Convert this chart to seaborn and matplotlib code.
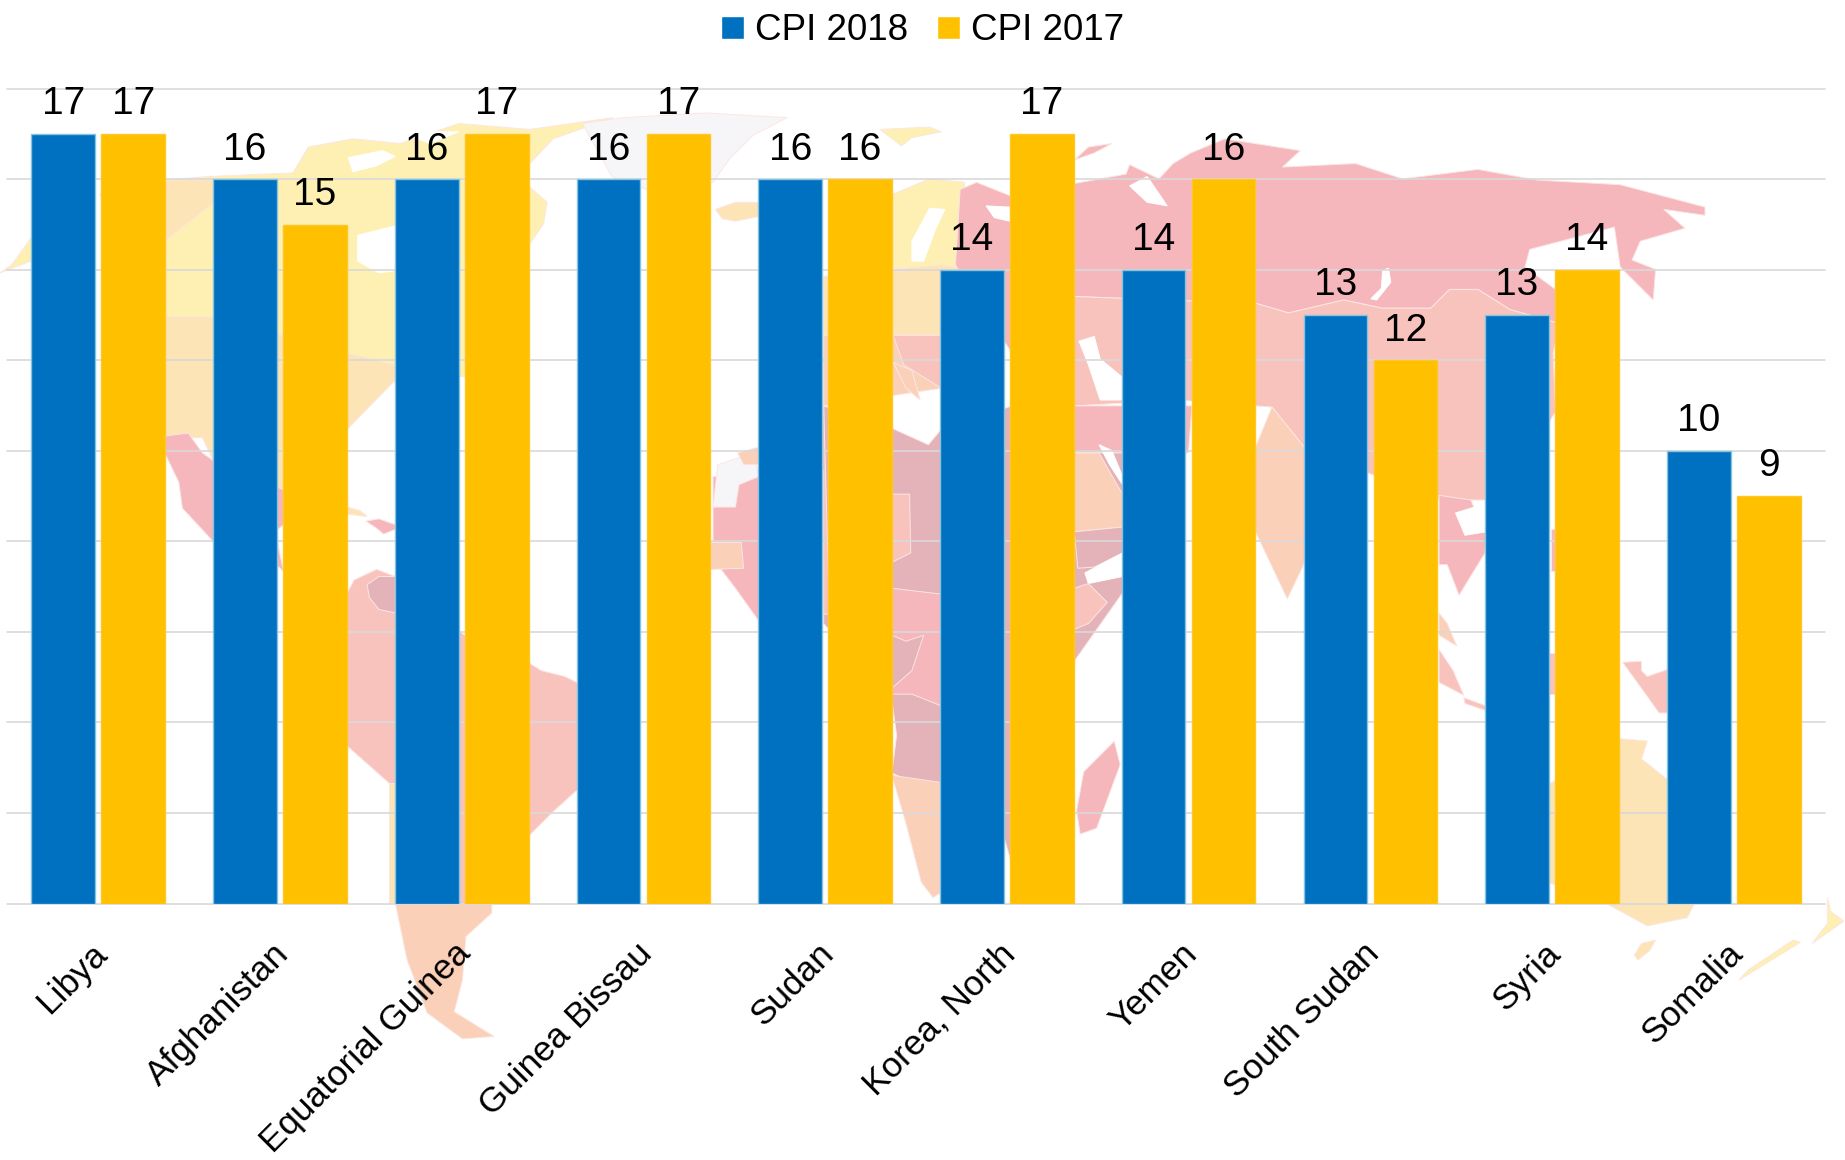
import matplotlib
matplotlib.use("Agg")
import matplotlib.pyplot as plt
from matplotlib.transforms import ScaledTranslation
import pandas as pd
import seaborn as sns

countries = ["Libya", "Afghanistan", "Equatorial Guinea", "Guinea Bissau", "Sudan",
             "Korea, North", "Yemen", "South Sudan", "Syria", "Somalia"]
cpi_2018 = [17, 16, 16, 16, 16, 14, 14, 13, 13, 10]
cpi_2017 = [17, 15, 17, 17, 16, 17, 16, 12, 14, 9]
series_names = ["CPI 2018", "CPI 2017"]
y_ticks = [0, 2, 4, 6, 8, 10, 12, 14, 16, 18]

BLUE = "#0070C0"
GOLD = "#FFC000"

# background world map, rough outlines traced in picture pixels (1568 wide)
YEL = "#FDF0B2"
ORA = "#FCE4B6"
PEA = "#FAD0B8"
PNK = "#F5B7BC"
LPK = "#F9C3BD"
DRK = "#E4B3B9"
GRY = "#F6F6F8"
WHT = "#FFFFFF"

map_shapes = [
    # north america
    (YEL, [(85, 165), (140, 153), (178, 150), (249, 147), (262, 125), (300, 118), (340, 122), (390, 105),
           (450, 110), (521, 100), (470, 118), (440, 150), (465, 172), (462, 190), (445, 215), (420, 265),
           (396, 320), (140, 320)]),
    (WHT, [(296, 134), (325, 128), (336, 133), (320, 141), (300, 146)]),
    (WHT, [(340, 112), (390, 112), (365, 122)]),
    (ORA, [(140, 153), (182, 153), (182, 172), (140, 205)]),
    (YEL, [(0, 232), (26, 222), (28, 200), (10, 225)]),
    (ORA, [(140, 269), (182, 269), (295, 300), (336, 310), (336, 323), (295, 365), (250, 372), (240, 440),
           (185, 400), (172, 372), (140, 372)]),
    (WHT, [(304, 200), (336, 192), (336, 230), (322, 232), (304, 222)]),
    (PNK, [(130, 372), (160, 368), (172, 385), (182, 392), (250, 420), (241, 446), (236, 450), (236, 462),
           (241, 486), (225, 470), (181, 460), (155, 432), (152, 410), (140, 385)]),
    (ORA, [(295, 431), (306, 434), (312, 439), (295, 437)]),
    (PNK, [(311, 443), (322, 441), (336, 446), (336, 450), (326, 454), (320, 449)]),
    # south america
    (LPK, [(250, 520), (295, 504), (301, 493), (320, 484), (336, 490), (395, 540), (449, 563), (460, 570),
           (480, 575), (500, 585), (530, 610), (491, 671), (470, 690), (449, 711), (440, 768), (336, 768),
           (336, 670), (331, 666), (295, 634), (265, 590)]),
    (DRK, [(312, 497), (322, 490), (336, 490), (336, 521), (322, 518), (314, 508)]),
    (PEA, [(336, 768), (418, 768), (418, 776), (396, 796), (393, 833), (386, 860), (420, 881), (393, 883),
           (363, 861), (346, 816)]),
    (ORA, [(331, 666), (337, 666), (338, 768), (331, 768)]),
    # greenland, iceland, svalbard
    (GRY, [(495, 105), (530, 100), (600, 96), (669, 100), (640, 115), (620, 135), (606, 155), (560, 165), (520, 150)]),
    (ORA, [(608, 178), (625, 172), (645, 172), (645, 184), (625, 188), (614, 186)]),
    (YEL, [(748, 110), (790, 108), (800, 112), (775, 117), (766, 124)]),
    # europe
    (YEL, [(759, 165), (790, 152), (820, 155), (815, 190), (821, 228), (759, 228)]),
    (WHT, [(775, 205), (790, 177), (803, 178), (795, 195), (785, 222), (775, 222)]),
    (ORA, [(700, 235), (800, 225), (860, 235), (860, 285), (700, 285)]),
    (PEA, [(700, 285), (800, 285), (800, 330), (700, 345)]),
    (LPK, [(759, 285), (800, 285), (800, 330), (768, 310)]),
    (PEA, [(759, 308), (775, 315), (782, 340), (770, 330)]),
    # russia
    (PNK, [(816, 161), (830, 155), (860, 167), (900, 165), (913, 156), (957, 148), (960, 140), (985, 152),
           (997, 139), (1012, 130), (1041, 118), (1105, 128), (1090, 142), (1152, 139), (1192, 152), (1256, 144),
           (1306, 153), (1377, 157), (1449, 176), (1449, 183), (1414, 178), (1432, 194), (1394, 205), (1387, 221),
           (1407, 229), (1405, 255), (1377, 227), (1372, 193), (1300, 212), (1296, 227), (1322, 246), (1325, 275),
           (1283, 263), (1256, 246), (1232, 246), (1216, 262), (1175, 262), (1142, 255), (1095, 266), (1068, 258),
           (913, 252), (860, 300), (820, 240), (812, 225)]),
    (WHT, [(838, 175), (858, 176), (858, 188), (845, 185)]),
    (PNK, [(913, 136), (925, 125), (945, 122), (930, 130)]),
    (WHT, [(975, 150), (992, 175), (975, 172), (960, 158)]),
    (WHT, [(1175, 230), (1180, 228), (1182, 240), (1170, 255), (1165, 254), (1174, 245)]),
    # middle and east asia
    (LPK, [(860, 300), (913, 252), (1068, 258), (1095, 266), (1142, 255), (1175, 262), (1216, 262), (1232, 246),
           (1256, 246), (1283, 263), (1325, 275), (1320, 300), (1322, 350), (1290, 400), (1263, 425), (1223, 425),
           (1110, 382), (1081, 346), (1000, 340), (913, 345)]),
    (PNK, [(913, 345), (1013, 345), (1010, 385), (913, 385)]),
    (WHT, [(917, 290), (930, 286), (935, 305), (953, 320), (953, 340), (935, 340), (925, 310)]),
    (PEA, [(1067, 380), (1081, 346), (1110, 382), (1125, 420), (1107, 482), (1094, 509), (1067, 452)]),
    (PNK, [(1223, 421), (1250, 425), (1263, 455), (1262, 470), (1240, 506), (1230, 480), (1223, 480)]),
    (WHT, [(1237, 436), (1263, 428), (1263, 452), (1245, 455)]),
    (PEA, [(1223, 521), (1230, 530), (1238, 549), (1223, 540)]),
    (LPK, [(1223, 552), (1235, 570), (1244, 591), (1223, 580)]),
    (LPK, [(1244, 593), (1263, 600), (1263, 604), (1245, 598)]),
    (PNK, [(1318, 450), (1322, 450), (1322, 485), (1318, 485)]),
    (LPK, [(1316, 555), (1322, 555), (1322, 590), (1316, 590)]),
    (LPK, [(1379, 563), (1395, 562), (1395, 570), (1400, 575), (1420, 568), (1420, 606), (1410, 606), (1395, 585)]),
    # australia and new zealand
    (ORA, [(1316, 667), (1378, 628), (1400, 630), (1395, 645), (1420, 665), (1440, 768), (1434, 780), (1400, 787),
           (1367, 769), (1316, 750)]),
    (ORA, [(1389, 812), (1395, 802), (1407, 799), (1402, 808), (1392, 816)]),
    (YEL, [(1553, 763), (1556, 775), (1567, 783), (1540, 802), (1553, 785)]),
    (YEL, [(1530, 801), (1478, 833), (1485, 825), (1524, 799)]),
    # africa
    (DRK, [(700, 345), (758, 364), (789, 378), (799, 366), (860, 345), (913, 345), (913, 385), (954, 385),
           (954, 504), (913, 562), (860, 735), (850, 700), (758, 657), (762, 625), (758, 595), (700, 530)]),
    (LPK, [(690, 345), (700, 345), (705, 522), (690, 522)]),
    (PNK, [(606, 405), (645, 405), (700, 400), (700, 522), (645, 528), (625, 500), (606, 475)]),
    (GRY, [(610, 395), (640, 385), (645, 405), (628, 412), (625, 431), (606, 431)]),
    (PEA, [(627, 385), (645, 380), (645, 395), (632, 395)]),
    (PEA, [(604, 461), (630, 461), (632, 483), (604, 484)]),
    (LPK, [(758, 420), (773, 420), (774, 470), (758, 478)]),
    (PNK, [(758, 500), (800, 505), (800, 600), (775, 590), (758, 590)]),
    (DRK, [(758, 540), (770, 545), (785, 540), (775, 570), (758, 585)]),
    (PEA, [(758, 659), (799, 665), (799, 759), (793, 763), (783, 750), (770, 700)]),
    (PEA, [(913, 385), (934, 385), (954, 420), (954, 448), (913, 452)]),
    (WHT, [(934, 378), (945, 383), (954, 405), (954, 412), (943, 395)]),
    (DRK, [(913, 452), (954, 448), (954, 470), (930, 482), (916, 483)]),
    (WHT, [(922, 487), (954, 470), (954, 490), (925, 496)]),
    (LPK, [(913, 500), (925, 496), (941, 512), (925, 530), (913, 535)]),
    (PNK, [(947, 630), (952, 650), (932, 704), (918, 709), (915, 689), (921, 656)]),
]

df = pd.DataFrame({"country": countries, series_names[0]: cpi_2018, series_names[1]: cpi_2017})
df_long = df.melt(id_vars="country", var_name="series", value_name="points")

sns.set_theme(style="whitegrid")
plt.rcParams["font.family"] = ["Liberation Sans", "DejaVu Sans"]

fig = plt.figure(figsize=(18.45, 11.6), dpi=100)

bg = fig.add_axes([0, 0, 1, 1], zorder=0)
bg.set_xlim(0, 1568)
bg.set_ylim(986, 0)
bg.axis("off")
for color, points in map_shapes:
    edge = color if color == WHT else "#FCE6E2"
    bg.fill([p[0] for p in points], [p[1] for p in points], fc=color, lw=0.7, ec=edge)

ax = fig.add_axes([7.4 / 1845, 1 - 903.5 / 1160, (1824.7 - 7.4) / 1845, (903.5 - 88.8) / 1160], zorder=1)
ax.patch.set_alpha(0)

sns.barplot(
    data=df_long,
    x="country",
    y="points",
    hue="series",
    palette=[BLUE, GOLD],
    width=0.77,
    gap=0.09,
    saturation=1,
    legend=True,
    ax=ax,
)

edges = ["#86C3DE", "#FFC726"]
for cont, edge in zip(ax.containers, edges):
    for bar in cont:
        bar.set_edgecolor(edge)
        bar.set_linewidth(1.0)
    ax.bar_label(cont, padding=8.5, fontsize=28, color="black")

ax.set_xlim(-0.5, 9.5)
ax.set_ylim(0, 18)
ax.set_yticks(y_ticks)
ax.set_yticklabels([])
ax.set_xlabel("")
ax.set_ylabel("")
ax.set_axisbelow(True)
ax.grid(False)
ax.grid(axis="y", color="#D9D9D9", linewidth=1.2)
for line in ax.get_ygridlines():
    line.set_clip_on(False)
for side in ["top", "right", "left", "bottom"]:
    ax.spines[side].set_visible(False)
ax.tick_params(axis="both", length=0)
ax.tick_params(axis="x", pad=32.5)
shift = ScaledTranslation(2.5 / 72, 0, fig.dpi_scale_trans)
for label in ax.get_xticklabels():
    label.set_rotation(45)
    label.set_ha("right")
    label.set_va("center")
    label.set_rotation_mode("anchor")
    label.set_fontsize(25.3)
    label.set_color("black")
    label.set_transform(label.get_transform() + shift)

handles, labels = ax.get_legend_handles_labels()
ax.legend(
    handles, labels,
    ncols=2,
    loc="center",
    bbox_to_anchor=(0.5, 1 - 31 / 1160),
    bbox_transform=fig.transFigure,
    frameon=False,
    borderpad=0,
    handlelength=0.62,
    handleheight=0.62,
    handletextpad=0.3,
    columnspacing=0.8,
    prop={"size": 26.5},
    labelcolor="black",
)

fig.savefig("out.png", dpi=100)
